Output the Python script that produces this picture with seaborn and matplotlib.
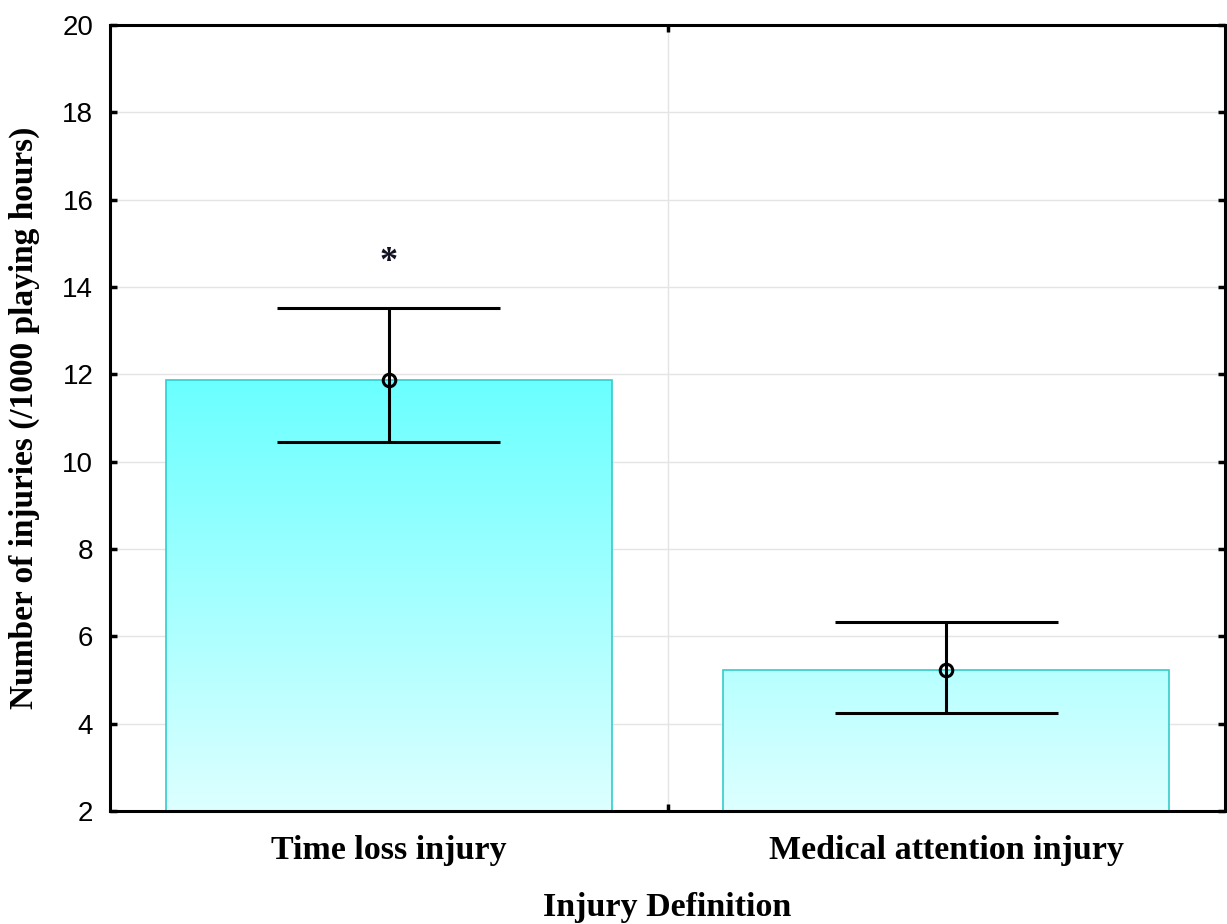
import numpy as np
import pandas as pd
import matplotlib
matplotlib.use("Agg")
import matplotlib.pyplot as plt
from matplotlib.colors import LinearSegmentedColormap
import seaborn as sns

# Injury incidence per 1000 playing hours, with 95% confidence limits
categories = ["Time loss injury", "Medical attention injury"]
rates = [11.88, 5.22]
ci_low = [10.44, 4.24]
ci_high = [13.53, 6.32]
y_ticks = [2, 4, 6, 8, 10, 12, 14, 16, 18, 20]
star_label = "*"
star_value = 14.55

sns.set_theme(style="ticks")
plt.rcParams["font.family"] = ["Liberation Sans", "DejaVu Sans"]
plt.rcParams["text.color"] = "black"
plt.rcParams["axes.labelcolor"] = "black"
plt.rcParams["xtick.color"] = "black"
plt.rcParams["ytick.color"] = "black"

df = pd.DataFrame({"definition": categories, "rate": rates})

fig = plt.figure(figsize=(12.27, 9.24), dpi=100)
ax = fig.add_axes([110 / 1227, 1 - 811 / 924, (1225 - 110) / 1227, (811 - 25) / 924])

sns.barplot(data=df, x="definition", y="rate", order=categories, width=0.8,
            color="#66ffff", edgecolor="#33cccc", linewidth=1.2,
            errorbar=None, ax=ax, zorder=2)

# vertical gradient fill: pale at the floor, saturated cyan at the tallest bar
cmap = LinearSegmentedColormap.from_list("cyan_fade", ["#ddffff", "#6affff"])
grad = np.linspace(0, 1, 256).reshape(-1, 1)
for patch in list(ax.patches):
    patch.set_facecolor("none")
    img = ax.imshow(grad, cmap=cmap, origin="lower", aspect="auto",
                    extent=(-0.5, 1.5, y_ticks[0], max(rates)),
                    interpolation="bilinear", zorder=1.9)
    img.set_clip_path(patch)

# confidence intervals with open mean markers
x_pos = np.arange(len(categories))
r = np.array(rates)
lo = np.array(ci_low)
hi = np.array(ci_high)
ax.errorbar(x_pos, r, yerr=[r - lo, hi - r], fmt="o", ms=9, mfc="none",
            mec="black", mew=2.2, ecolor="black", elinewidth=2.2,
            capsize=0, zorder=4)
ax.hlines(np.concatenate([lo, hi]), np.tile(x_pos - 0.2, 2), np.tile(x_pos + 0.2, 2),
          colors="black", linewidth=2.2, zorder=4)

ax.text(x_pos[0], star_value, star_label, ha="center", va="center",
        fontsize=26, fontweight="bold", family="Liberation Serif", color="#111122",
        zorder=5)

ax.set_xlim(-0.5, 1.5)
ax.set_ylim(y_ticks[0], y_ticks[-1])
ax.set_yticks(y_ticks)
ax.set_yticklabels([str(t) for t in y_ticks], fontsize=20)

ax.set_xticks(x_pos)
ax.set_xticklabels(categories, fontsize=24.5, fontweight="bold", family="Liberation Serif")
ax.set_xticks([0.5], minor=True)

ax.set_axisbelow(True)
ax.yaxis.grid(True, which="major", color="#e4e4e4", linewidth=1)
ax.xaxis.grid(True, which="minor", color="#e4e4e4", linewidth=1)
ax.xaxis.grid(False, which="major")

ax.tick_params(axis="y", which="major", direction="in", length=5, width=2.5,
               left=True, right=True, pad=12, colors="black")
ax.tick_params(axis="x", which="major", length=0, pad=17, colors="black")
ax.tick_params(axis="x", which="minor", direction="in", length=5, width=2.5,
               top=True, bottom=True)

for side in ["left", "right", "top", "bottom"]:
    ax.spines[side].set_visible(True)
    ax.spines[side].set_color("black")
    ax.spines[side].set_linewidth(2.2)

ax.set_xlabel("Injury Definition", fontsize=24.5, fontweight="bold",
              family="Liberation Serif", labelpad=19, color="black")
ax.set_ylabel("Number of injuries (/1000 playing hours)", fontsize=24,
              fontweight="bold", family="Liberation Serif", labelpad=16, color="black")

fig.savefig("out.png", dpi=100, facecolor="white")
